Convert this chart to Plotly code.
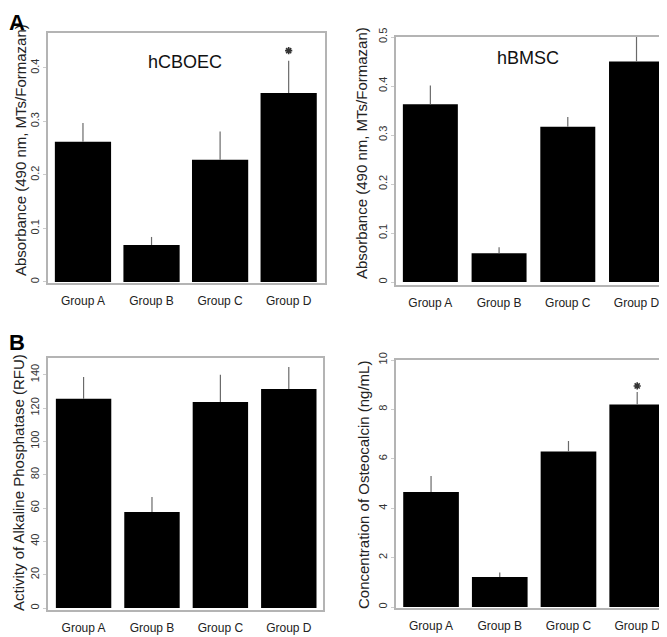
import plotly.graph_objects as go

groups = ["Group A", "Group B", "Group C", "Group D"]

# Panel A left: hCBOEC absorbance
hcboec_mean = [0.262, 0.069, 0.228, 0.353]
hcboec_err_top = [0.297, 0.084, 0.281, 0.413]
hcboec_star = [None, None, None, 0.432]

# Panel A right: hBMSC absorbance
hbmsc_mean = [0.363, 0.059, 0.317, 0.450]
hbmsc_err_top = [0.401, 0.071, 0.337, 0.503]
hbmsc_star = [None, None, None, 0.507]

# Panel B left: ALP activity
alp_mean = [125.5, 57.6, 123.6, 131.4]
alp_err_top = [138.6, 66.6, 140.0, 144.6]

# Panel B right: osteocalcin
ocn_mean = [4.66, 1.22, 6.30, 8.20]
ocn_err_top = [5.30, 1.40, 6.72, 8.70]
ocn_star = [None, None, None, 8.95]

# page body has an 8px margin; figure is sized to fit inside the window
OFF = 8
W, H = 667 - OFF, 637 - OFF
FONT = "Liberation Sans, Arial, sans-serif"
FRAME = "#b4b4b4"


def px_x(v):
    return (v - OFF) / W


def px_y(v):
    return 1 - (v - OFF) / H


panels = [
    dict(mean=hcboec_mean, top=hcboec_err_top, star=hcboec_star,
         px=(48, 325), py=(33, 283), yr=[-0.002, 0.465], xr=[-0.51, 3.53],
         tickvals=[0, 0.1, 0.2, 0.3, 0.4], ticktext=["0", "0.1", "0.2", "0.3", "0.4"],
         title="Absorbance (490 nm, MTs/Formazan)", tpos=(20, 150), width=0.82),
    dict(mean=hbmsc_mean, top=hbmsc_err_top, star=hbmsc_star,
         px=(396, 664), py=(37, 285), yr=[-0.006, 0.5], xr=[-0.50, 3.40],
         tickvals=[0, 0.1, 0.2, 0.3, 0.4, 0.5], ticktext=["0", "0.1", "0.2", "0.3", "0.4", "0.5"],
         title="Absorbance (490 nm, MTs/Formazan)", tpos=(362, 153), width=0.80),
    dict(mean=alp_mean, top=alp_err_top, star=None,
         px=(48, 323), py=(358, 610), yr=[-1.2, 150], xr=[-0.52, 3.50],
         tickvals=[0, 20, 40, 60, 80, 100, 120, 140], ticktext=None,
         title="Activity of Alkaline Phosphatase (RFU)", tpos=(18, 483), width=0.81),
    dict(mean=ocn_mean, top=ocn_err_top, star=ocn_star,
         px=(396, 664), py=(360, 608), yr=[-0.04, 10.0], xr=[-0.51, 3.39],
         tickvals=[0, 2, 4, 6, 8, 10], ticktext=None,
         title="Concentration of Osteocalcin (ng/mL)", tpos=(363, 485), width=0.81),
]

fig = go.Figure()
annotations = []
layout = {}
for i, p in enumerate(panels, start=1):
    xa = "x" if i == 1 else f"x{i}"
    ya = "y" if i == 1 else f"y{i}"
    plus = [t - m for t, m in zip(p["top"], p["mean"])]
    fig.add_trace(go.Bar(
        x=list(range(4)), y=p["mean"], width=p["width"],
        marker=dict(color="#000000", line=dict(width=0)),
        error_y=dict(type="data", symmetric=False, array=plus,
                     arrayminus=[0] * 4, color="#6a6a6a", thickness=1.2, width=0),
        xaxis=xa, yaxis=ya, showlegend=False, hoverinfo="skip"))
    if p["star"] is not None:
        fig.add_trace(go.Scatter(
            x=list(range(4)), y=p["star"], mode="markers",
            marker=dict(symbol="asterisk-open", size=6, color="#333",
                        line=dict(color="#333", width=1.6)),
            xaxis=xa, yaxis=ya, showlegend=False, cliponaxis=False, hoverinfo="skip"))
    xdom = [px_x(p["px"][0]), min(1.0, px_x(p["px"][1]))]
    ydom = [px_y(p["py"][1]), px_y(p["py"][0])]
    xkey = "xaxis" if i == 1 else f"xaxis{i}"
    ykey = "yaxis" if i == 1 else f"yaxis{i}"
    layout[xkey] = dict(domain=xdom, anchor=ya, range=p["xr"], tickvals=list(range(4)),
                        ticktext=groups, showgrid=False, zeroline=False, showline=True,
                        mirror=True, linecolor=FRAME, linewidth=1.5, ticks="",
                        ticklabelstandoff=6, automargin=False,
                        tickfont=dict(family=FONT, size=12, color="#222"))
    yax = dict(domain=ydom, anchor=xa, range=p["yr"], tickvals=p["tickvals"],
               showgrid=False, zeroline=False, showline=True, mirror=True,
               linecolor=FRAME, linewidth=1.5, ticks="outside", ticklen=3,
               tickcolor="#cccccc", tickangle=-90, automargin=False,
               tickfont=dict(family=FONT, size=11, color="#333"))
    if p["ticktext"] is not None:
        yax["ticktext"] = p["ticktext"]
    layout[ykey] = yax
    annotations.append(dict(text=p["title"], xref="paper", yref="paper",
                            x=px_x(p["tpos"][0]), y=px_y(p["tpos"][1]),
                            xanchor="center", yanchor="middle", textangle=-90,
                            showarrow=False,
                            font=dict(family=FONT, size=15, color="#222")))

annotations += [
    dict(text="hCBOEC", xref="paper", yref="paper", x=px_x(185), y=px_y(62),
         xanchor="center", yanchor="middle", showarrow=False,
         font=dict(family=FONT, size=18, color="#111")),
    dict(text="hBMSC", xref="paper", yref="paper", x=px_x(528), y=px_y(58),
         xanchor="center", yanchor="middle", showarrow=False,
         font=dict(family=FONT, size=18, color="#111")),
    dict(text="<b>A</b>", xref="paper", yref="paper", x=0, y=px_y(22),
         xanchor="left", yanchor="middle", showarrow=False, borderpad=0,
         font=dict(family=FONT, size=22, color="#000")),
    dict(text="<b>B</b>", xref="paper", yref="paper", x=0, y=px_y(342),
         xanchor="left", yanchor="middle", showarrow=False, borderpad=0,
         font=dict(family=FONT, size=22, color="#000")),
]

fig.update_layout(template="none", width=W, height=H,
                  margin=dict(l=0, r=0, t=0, b=0, pad=0),
                  paper_bgcolor="white", plot_bgcolor="white",
                  annotations=annotations, bargap=0.2, **layout)
fig.write_html("out.html")
